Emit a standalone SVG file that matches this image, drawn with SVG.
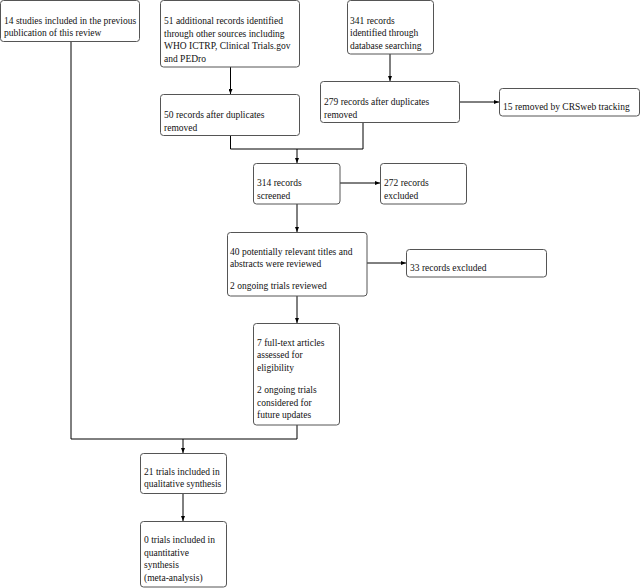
<svg xmlns="http://www.w3.org/2000/svg" width="641" height="588" viewBox="0 0 641 588">
<defs>
<marker id="ah" markerWidth="5" markerHeight="4" refX="5" refY="2" orient="auto" markerUnits="userSpaceOnUse">
<path d="M0,0 L5,2 L0,4 Z" fill="#000"/>
</marker>
<style>
.box{fill:#fff;stroke:#555;stroke-width:1}
.t{font-family:"Liberation Serif","Times New Roman",serif;font-size:9.5px;fill:#111}
.c{fill:none;stroke:#000;stroke-width:1}
.a{fill:none;stroke:#000;stroke-width:1;marker-end:url(#ah)}
</style>
</defs>
<rect width="641" height="588" fill="#fff"/>
<g id="connectors">
<path class="c" d="M71,42 V439 H297"/>
<path class="c" d="M297,425 V439"/>
<path class="a" d="M183,439 V453"/>
<path class="a" d="M230.5,67 V94"/>
<path class="a" d="M390,54 V81"/>
<path class="a" d="M459,102 H499"/>
<path class="c" d="M230.5,135 V149 H363 V123"/>
<path class="a" d="M297,149 V163"/>
<path class="a" d="M340,183 H380"/>
<path class="a" d="M297,204 V232"/>
<path class="a" d="M367,263 H406"/>
<path class="a" d="M297,296 V323"/>
<path class="a" d="M183,493 V521"/>
</g>
<g id="n14">
<rect class="box" x="0.5" y="0.5" width="139" height="41" rx="3"/>
<text class="t" x="4" y="23.5">14 studies included in the previous</text>
<text class="t" x="4" y="36">publication of this review</text>
</g>
<g id="n51">
<rect class="box" x="160.5" y="0.5" width="139" height="66.5" rx="3"/>
<text class="t" x="164" y="24">51 additional records identified</text>
<text class="t" x="164" y="36.5">through other sources including</text>
<text class="t" x="164" y="49">WHO ICTRP, Clinical Trials.gov</text>
<text class="t" x="164" y="61.5">and PEDro</text>
</g>
<g id="n341">
<rect class="box" x="347.5" y="0.5" width="86" height="53.5" rx="3"/>
<text class="t" x="350" y="23.5">341 records</text>
<text class="t" x="350" y="36">identified through</text>
<text class="t" x="350" y="48.5">database searching</text>
</g>
<g id="n50">
<rect class="box" x="160.5" y="94.5" width="139" height="41" rx="3"/>
<text class="t" x="164" y="118">50 records after duplicates</text>
<text class="t" x="164" y="130.5">removed</text>
</g>
<g id="n279">
<rect class="box" x="320.5" y="81.5" width="139" height="41" rx="3"/>
<text class="t" x="324" y="105">279 records after duplicates</text>
<text class="t" x="324" y="117.5">removed</text>
</g>
<g id="n15">
<rect class="box" x="499.5" y="88.5" width="140" height="27.5" rx="3"/>
<text class="t" x="503" y="110">15 removed by CRSweb tracking</text>
</g>
<g id="n314">
<rect class="box" x="253.5" y="163.5" width="86.5" height="40.5" rx="3"/>
<text class="t" x="257" y="186">314 records</text>
<text class="t" x="257" y="198.5">screened</text>
</g>
<g id="n272">
<rect class="box" x="380.5" y="163.5" width="86" height="40.5" rx="3"/>
<text class="t" x="384" y="186">272 records</text>
<text class="t" x="384" y="198.5">excluded</text>
</g>
<g id="n40">
<rect class="box" x="227.5" y="232.5" width="139.5" height="63.5" rx="3"/>
<text class="t" x="230" y="254.5">40 potentially relevant titles and</text>
<text class="t" x="230" y="267">abstracts were reviewed</text>
<text class="t" x="230" y="289">2 ongoing trials reviewed</text>
</g>
<g id="n33">
<rect class="box" x="406.5" y="249.5" width="140" height="27.5" rx="3"/>
<text class="t" x="410" y="271">33 records excluded</text>
</g>
<g id="n7">
<rect class="box" x="253.5" y="323.5" width="86" height="101.5" rx="3"/>
<text class="t" x="257" y="345.5">7 full-text articles</text>
<text class="t" x="257" y="358">assessed for</text>
<text class="t" x="257" y="370.5">eligibility</text>
<text class="t" x="257" y="393">2 ongoing trials</text>
<text class="t" x="257" y="405.5">considered for</text>
<text class="t" x="257" y="418">future updates</text>
</g>
<g id="n21">
<rect class="box" x="140.5" y="453.5" width="86" height="40" rx="3"/>
<text class="t" x="144" y="474.5">21 trials included in</text>
<text class="t" x="144" y="487">qualitative synthesis</text>
</g>
<g id="n0">
<rect class="box" x="140.5" y="521.5" width="86" height="65.5" rx="3"/>
<text class="t" x="144" y="543">0 trials included in</text>
<text class="t" x="144" y="555.5">quantitative</text>
<text class="t" x="144" y="568">synthesis</text>
<text class="t" x="144" y="580.5">(meta-analysis)</text>
</g>
</svg>
